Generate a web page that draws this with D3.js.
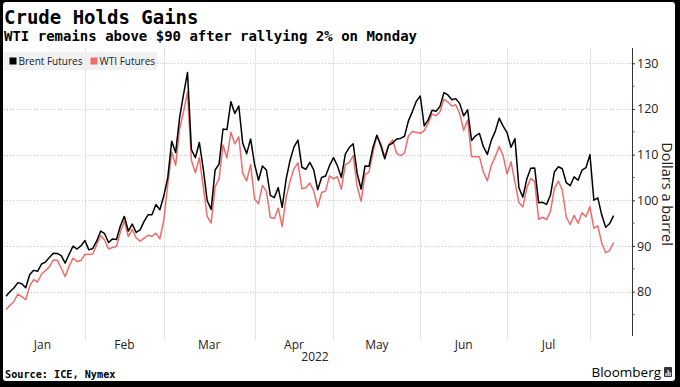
<!DOCTYPE html>
<html>
<head>
<meta charset="utf-8">
<script src="https://cdn.jsdelivr.net/npm/d3@7/dist/d3.min.js"></script>
<style>
  html, body { margin: 0; padding: 0; background: #000; }
  svg { display: block; }
</style>
</head>
<body>
<svg id="chart" width="680" height="387"></svg>
<script>
// ---------------- DATA ----------------
const title = "Crude Holds Gains";
const subtitle = "WTI remains above $90 after rallying 2% on Monday";
const source = "Source: ICE, Nymex";
const yAxisTitle = "Dollars a barrel";
const seriesNames = ["Brent Futures", "WTI Futures"];
const monthLabels = ["Jan", "Feb", "Mar", "Apr", "May", "Jun", "Jul"];
const yearLabel = "2022";
const yTicks = [80, 90, 100, 110, 120, 130];
const startDate = "2022-01-03";
const endDate = "2022-08-08";
const closedDays = ["2022-04-15"];

// Brent front-month settlement, one per trading day (Jan 3 .. Aug 8)
const brent = [
  78.98, 80.00, 80.80, 81.99, 81.75, 80.87, 83.72, 84.67, 84.47, 86.06,
  86.48, 87.51, 88.44, 88.38, 87.89, 86.27, 88.20, 89.96, 89.34, 90.03, 91.21,
  89.16, 89.47, 91.11, 93.27, 92.69, 90.78, 91.55, 91.41, 94.44, 96.48,
  93.28, 94.81, 92.97, 93.54, 95.39, 96.84, 96.84, 99.08, 97.93, 100.99,
  104.97, 112.93, 110.46, 118.11, 123.21, 127.98, 111.14, 109.33, 112.67, 106.90,
  99.91, 98.02, 106.64, 107.93, 115.62, 115.48, 121.60, 119.03, 120.65, 112.48,
  110.23, 113.45, 107.91,
  104.39, 107.53, 106.64, 101.07, 100.58, 102.78, 98.48, 104.64, 108.78, 111.70,
  113.16, 107.25, 106.80, 108.33, 106.65, 102.32, 104.99, 105.32, 107.59, 109.34,
  107.58, 104.97, 110.14, 111.55, 112.39, 105.94, 102.46, 107.51, 107.45, 111.55,
  114.24, 111.93, 109.11, 112.04, 112.55, 113.42, 113.56, 114.03, 117.40, 119.43,
  121.67, 122.84,
  116.29, 117.61, 119.72, 119.51, 120.57, 123.58, 123.07, 122.01, 122.27, 121.17,
  118.51, 119.81, 113.12, 114.13, 114.65, 111.74, 110.05, 113.12, 115.09, 117.98,
  116.26, 114.81,
  111.63, 113.50, 102.77, 100.69, 104.65, 107.02, 107.10, 99.49, 99.57, 99.10,
  101.16, 106.27, 107.35, 106.92, 103.86, 103.20, 105.15, 104.40, 106.62, 107.14,
  110.01,
  100.03, 100.54, 96.78, 94.12, 94.92, 96.65
];

// WTI front-month settlement (null = NYMEX holiday)
const wti = [
  76.08, 76.99, 77.85, 79.46, 78.90, 78.23, 81.22, 82.64, 82.12, 83.82,
  null, 85.43, 86.96, 86.90, 85.14, 83.31, 85.60, 87.35, 86.61, 86.82, 88.15,
  88.20, 88.26, 90.27, 92.31, 91.32, 89.36, 89.66, 89.88, 93.10, 95.46,
  92.07, 93.66, 91.76, 91.07, null, 92.35, 92.10, 92.81, 91.59, 95.72,
  103.41, 110.60, 107.67, 115.68, 119.40, 123.70, 108.70, 106.02, 109.33, 103.01,
  96.44, 95.04, 102.98, 104.70, 112.12, 109.27, 114.93, 112.34, 113.90, 105.96,
  104.24, 107.82, 100.28,
  99.27, 103.28, 101.96, 96.23, 96.03, 98.26, 94.29, 100.60, 104.25, 106.95,
  108.21, 102.56, 102.75, 103.79, 102.07, 98.54, 101.70, 102.02, 105.36, 104.69,
  105.17, 102.41, 107.81, 108.26, 109.77, 103.09, 99.76, 105.71, 106.13, 110.49,
  114.20, 112.40, 109.59, 112.21, 113.23, 110.29, 109.77, 110.33, 114.09, 115.07,
  null, 114.67,
  115.26, 116.87, 118.87, 118.50, 119.41, 122.11, 121.51, 120.67, 120.93, 118.93,
  115.31, 117.59, 109.56, null, 109.52, 106.19, 104.27, 107.62, 109.57, 111.76,
  109.78, 105.76,
  108.43, null, 99.50, 98.53, 102.73, 104.79, 104.09, 95.84, 96.30, 95.78,
  97.59, 102.60, 104.22, 102.26, 96.35, 94.70, 96.70, 94.98, 97.26, 96.42,
  98.62,
  93.89, 94.42, 90.66, 88.54, 89.01, 90.76
];

// ---------------- CHART ----------------
const svg = d3.select("#chart");
const W = 680, H = 387;
const colors = { brent: "#000000", wti: "#ef6c6c" };

// trading days (weekdays except exchange closures)
const parse = d3.utcParse("%Y-%m-%d");
const fmt = d3.utcFormat("%Y-%m-%d");
const dates = d3.utcDays(parse(startDate), d3.utcDay.offset(parse(endDate), 1))
  .filter(d => d.getUTCDay() !== 0 && d.getUTCDay() !== 6 && !closedDays.includes(fmt(d)));

// frame
svg.append("rect").attr("x", 0).attr("y", 0).attr("width", W).attr("height", H).attr("fill", "#000");
svg.append("rect").attr("x", 3).attr("y", 2).attr("width", 672).attr("height", 379).attr("rx", 3).attr("fill", "#fff");

const plot = { left: 4, right: 632, top: 48, bottom: 336 };

const x = d3.scalePoint().domain(dates.map(fmt)).range([6, 613.6]);
const y = d3.scaleLinear().domain([70.3, 133.35]).range([plot.bottom, plot.top]);

// month boundaries: last trading day of each month
const byMonth = d3.groups(dates, d => d.getUTCMonth());
const monthEnds = byMonth.map(([m, ds]) => x(fmt(ds[ds.length - 1])));
const gridXs = monthEnds.slice(0, monthLabels.length); // Jan..Jul ends

// vertical gridlines
svg.append("g").selectAll("line").data(gridXs).join("line")
  .attr("x1", d => Math.round(d) + 0.5).attr("x2", d => Math.round(d) + 0.5)
  .attr("y1", plot.top).attr("y2", 340)
  .attr("stroke", "#e3e3e3").attr("stroke-width", 1);

// horizontal dotted gridlines
svg.append("g").selectAll("line").data(yTicks).join("line")
  .attr("x1", plot.left).attr("x2", plot.right)
  .attr("y1", d => Math.round(y(d)) + 0.5).attr("y2", d => Math.round(y(d)) + 0.5)
  .attr("stroke", "#c8c8c8").attr("stroke-width", 1).attr("stroke-dasharray", "1,2");

// month labels centered between boundaries
const bounds = [0, ...gridXs];
svg.append("g").selectAll("text").data(monthLabels).join("text")
  .attr("x", (d, i) => (bounds[i] + bounds[i + 1]) / 2)
  .attr("y", 349)
  .attr("text-anchor", "middle")
  .attr("font-family", "Open Sans, sans-serif").attr("font-size", 12)
  .attr("fill", "#222")
  .text(d => d);
svg.append("text").attr("x", (bounds[3] + bounds[4]) / 2 + 21).attr("y", 361)
  .attr("text-anchor", "middle")
  .attr("font-family", "Open Sans, sans-serif").attr("font-size", 12)
  .attr("fill", "#222").text(yearLabel);

// right y axis
const yAxis = d3.axisRight(y).tickValues(yTicks).tickSize(3).tickPadding(2);
const ga = svg.append("g").attr("transform", `translate(${plot.right},0)`).call(yAxis);
ga.select(".domain").remove();
ga.selectAll("text").attr("font-family", "Open Sans, sans-serif").attr("font-size", 12.5).attr("fill", "#222");
ga.selectAll("line").attr("stroke", "#333");
svg.append("line").attr("x1", plot.right + 0.5).attr("x2", plot.right + 0.5)
  .attr("y1", plot.top).attr("y2", plot.bottom).attr("stroke", "#333");
const minor = d3.range(75, 131, 10);
svg.append("g").selectAll("line").data(minor).join("line")
  .attr("x1", plot.right).attr("x2", plot.right + 2.5)
  .attr("y1", d => y(d)).attr("y2", d => y(d)).attr("stroke", "#555");

svg.append("text")
  .attr("transform", `translate(662, ${194}) rotate(90)`)
  .attr("text-anchor", "middle")
  .attr("font-family", "Open Sans, sans-serif").attr("font-size", 14.5)
  .attr("fill", "#222").text(yAxisTitle);

// lines
const mk = vals => vals.map((v, i) => ({ d: fmt(dates[i]), v })).filter(p => p.v != null);
const line = d3.line().x(p => x(p.d)).y(p => y(p.v));
svg.append("path").datum(mk(wti)).attr("d", line)
  .attr("fill", "none").attr("stroke", colors.wti).attr("stroke-width", 1.5).attr("stroke-linejoin", "round");
svg.append("path").datum(mk(brent)).attr("d", line)
  .attr("fill", "none").attr("stroke", colors.brent).attr("stroke-width", 1.5).attr("stroke-linejoin", "round");

// legend
const lg = svg.append("g");
lg.append("rect").attr("x", 4).attr("y", 52).attr("width", 153).attr("height", 18).attr("fill", "#eeeeee").attr("opacity", 0.85);
const items = [{ name: seriesNames[0], c: colors.brent, x: 9.5 }, { name: seriesNames[1], c: colors.wti, x: 90.5 }];
items.forEach(it => {
  lg.append("rect").attr("x", it.x).attr("y", 57.5).attr("width", 7).attr("height", 7).attr("fill", it.c);
  lg.append("text").attr("x", it.x + 9).attr("y", 64.5)
    .attr("font-family", "Open Sans, sans-serif").attr("font-size", 10).attr("fill", "#222").text(it.name);
});

// titles
svg.append("text").attr("x", 4).attr("y", 23.5)
  .attr("font-family", "DejaVu Sans Mono, monospace").attr("font-weight", "bold").attr("font-size", 19)
  .attr("fill", "#000").text(title);
svg.append("text").attr("x", 4).attr("y", 40.5)
  .attr("font-family", "DejaVu Sans Mono, monospace").attr("font-weight", "bold").attr("font-size", 14)
  .attr("fill", "#000").text(subtitle);

// footer
svg.append("text").attr("x", 5).attr("y", 378)
  .attr("font-family", "DejaVu Sans Mono, monospace").attr("font-weight", "bold").attr("font-size", 10.2)
  .attr("fill", "#000").text(source);
svg.append("text").attr("x", 661).attr("y", 377).attr("text-anchor", "end")
  .attr("font-family", "Open Sans, sans-serif").attr("font-size", 13.5)
  .attr("fill", "#000").text("Bloomberg");
const logo = svg.append("g").attr("transform", "translate(664,367)");
logo.append("rect").attr("width", 8).attr("height", 10).attr("rx", 1).attr("fill", "#333");
[[1.5, 6, 1.2], [3.5, 3, 1.2], [5.5, 5, 1.2]].forEach(([bx, by, bw]) =>
  logo.append("rect").attr("x", bx).attr("y", by).attr("width", bw).attr("height", 9 - by).attr("fill", "#fff"));
</script>
</body>
</html>
